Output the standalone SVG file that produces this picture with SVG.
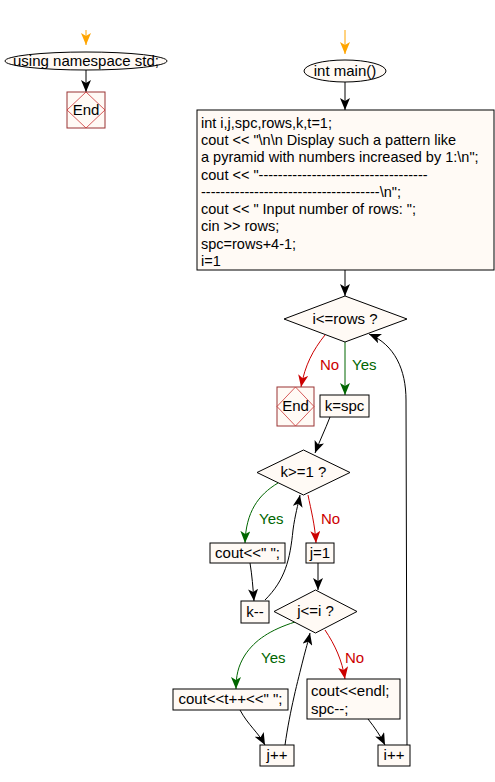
<svg xmlns="http://www.w3.org/2000/svg" width="495" height="782" viewBox="0 0 495 782">
<style>
text{font-family:"Liberation Sans",Arial,sans-serif;font-size:15px;fill:#000}
.bt{font-size:14.5px}
.box{fill:#fffaf5;stroke:#000;stroke-width:1}
.end{fill:#fffaf5;stroke:#993333;stroke-width:1}
.endd{fill:none;stroke:#cc3333;stroke-width:0.8}
.ln{fill:none;stroke:#000;stroke-width:1}
.g{fill:none;stroke:#006600;stroke-width:1}
.r{fill:none;stroke:#cc0000;stroke-width:1}
.o{fill:none;stroke:#ffa500;stroke-width:1}
</style>
<defs>
<marker id="a" viewBox="0 0 12 10" refX="12" refY="5" markerWidth="12" markerHeight="10" markerUnits="userSpaceOnUse" orient="auto">
<path d="M0,0 L12,5 L0,10 L3,5 Z" fill="#000"/>
</marker>
<marker id="ag" viewBox="0 0 12 10" refX="12" refY="5" markerWidth="12" markerHeight="10" markerUnits="userSpaceOnUse" orient="auto">
<path d="M0,0 L12,5 L0,10 L3,5 Z" fill="#006600"/>
</marker>
<marker id="ar" viewBox="0 0 12 10" refX="12" refY="5" markerWidth="12" markerHeight="10" markerUnits="userSpaceOnUse" orient="auto">
<path d="M0,0 L12,5 L0,10 L3,5 Z" fill="#cc0000"/>
</marker>
<marker id="ao" viewBox="0 0 12 10" refX="12" refY="5" markerWidth="12" markerHeight="10" markerUnits="userSpaceOnUse" orient="auto">
<path d="M0,0 L12,5 L0,10 L3,5 Z" fill="#ffa500"/>
</marker>
</defs>

<g id="connectors">
<path class="o" d="M86,30 L86,45" marker-end="url(#ao)"/>
<path class="ln" d="M86,70 L86,92" marker-end="url(#a)"/>
<path class="o" d="M345,30 L345,54" marker-end="url(#ao)"/>
<path class="ln" d="M345,82 L345,110" marker-end="url(#a)"/>
<path class="ln" d="M345,270 L345,296" marker-end="url(#a)"/>
<path class="r" d="M325,335 C313,350 305,365 301,387" marker-end="url(#ar)"/>
<path class="g" d="M345,342 L345,395" marker-end="url(#ag)"/>
<path class="ln" d="M407,745 L406,400 C406,370 395,345 369,334" marker-end="url(#a)"/>
<path class="ln" d="M330,417 C325,430 320,440 315,453" marker-end="url(#a)"/>
<path class="g" d="M278,483 C258,495 246,512 245,543" marker-end="url(#ag)"/>
<path class="r" d="M308,495 C311,510 315,525 316,543" marker-end="url(#ar)"/>
<path class="ln" d="M250,563 C252,575 253,588 254,601" marker-end="url(#a)"/>
<path class="ln" d="M265,600 C285,580 290,560 293,530 C295,515 298,505 300,495" marker-end="url(#a)"/>
<path class="ln" d="M318,563 L318,590" marker-end="url(#a)"/>
<path class="g" d="M295,622 C270,630 255,640 245,655 C238,666 236,676 236,689" marker-end="url(#ag)"/>
<path class="r" d="M325,630 C335,645 342,660 345,679" marker-end="url(#ar)"/>
<path class="ln" d="M240,710 C248,725 258,732 265,745" marker-end="url(#a)"/>
<path class="ln" d="M285,745 C290,710 298,680 303,660 C306,648 308,642 310,633" marker-end="url(#a)"/>
<path class="ln" d="M368,719 C375,728 380,735 385,745" marker-end="url(#a)"/>
<text x="320" y="370" style="fill:#cc0000">No</text>
<text x="352" y="370" style="fill:#006600">Yes</text>
<text x="259" y="524" style="fill:#006600">Yes</text>
<text x="321" y="524" style="fill:#cc0000">No</text>
<text x="261" y="663" style="fill:#006600">Yes</text>
<text x="345" y="663" style="fill:#cc0000">No</text>
</g>

<g id="ns">
<ellipse class="box" cx="86" cy="61" rx="81" ry="9"/>
<text x="86" y="66" text-anchor="middle">using namespace std;</text>
</g>
<g id="end1">
<rect class="end" x="67" y="92" width="38" height="36"/>
<path class="endd" d="M86,92 L105,110 L86,128 L67,110 Z"/>
<text x="86" y="115" text-anchor="middle">End</text>
</g>
<g id="main">
<ellipse class="box" cx="345" cy="71" rx="41" ry="11"/>
<text x="345" y="76" text-anchor="middle">int main()</text>
</g>
<g id="init">
<rect class="box" x="197" y="110" width="297" height="160"/>
<text class="bt" x="201" y="128">int i,j,spc,rows,k,t=1;</text>
<text class="bt" x="201" y="145">cout &lt;&lt; "\n\n Display such a pattern like</text>
<text class="bt" x="201" y="162">a pyramid with numbers increased by 1:\n";</text>
<text class="bt" x="201" y="180">cout &lt;&lt; "-----------------------------------</text>
<text class="bt" x="201" y="197">-------------------------------------\n";</text>
<text class="bt" x="201" y="214">cout &lt;&lt; " Input number of rows: ";</text>
<text class="bt" x="201" y="231">cin &gt;&gt; rows;</text>
<text class="bt" x="201" y="249">spc=rows+4-1;</text>
<text class="bt" x="201" y="266">i=1</text>
</g>
<g id="d1">
<path class="box" d="M345,296 L407,319 L345,342 L284,319 Z"/>
<text x="345" y="324" text-anchor="middle">i&lt;=rows ?</text>
</g>
<g id="end2">
<rect class="end" x="277" y="387" width="37" height="39"/>
<path class="endd" d="M295.5,387 L314,406.5 L295.5,426 L277,406.5 Z"/>
<text x="295.5" y="411" text-anchor="middle">End</text>
</g>
<g id="kspc">
<rect class="box" x="320" y="395" width="49" height="22"/>
<text x="344.5" y="411" text-anchor="middle">k=spc</text>
</g>
<g id="d2">
<path class="box" d="M303.5,450 L350,472.5 L303.5,495 L257,472.5 Z"/>
<text x="303.5" y="477" text-anchor="middle">k&gt;=1 ?</text>
</g>
<g id="cout1">
<rect class="box" x="210" y="543" width="75" height="20"/>
<text x="247.5" y="558" text-anchor="middle">cout&lt;&lt;" ";</text>
</g>
<g id="j1">
<rect class="box" x="306" y="543" width="28" height="20"/>
<text x="320" y="558" text-anchor="middle">j=1</text>
</g>
<g id="kdec">
<rect class="box" x="241" y="601" width="28" height="22"/>
<text x="255" y="617" text-anchor="middle">k--</text>
</g>
<g id="d3">
<path class="box" d="M315.5,590 L357,611.5 L315.5,633 L274,611.5 Z"/>
<text x="315.5" y="616" text-anchor="middle">j&lt;=i ?</text>
</g>
<g id="cout2">
<rect class="box" x="173" y="689" width="115" height="21"/>
<text x="230.5" y="704" text-anchor="middle">cout&lt;&lt;t++&lt;&lt;" ";</text>
</g>
<g id="endl">
<rect class="box" x="307" y="679" width="93" height="40"/>
<text x="311" y="696">cout&lt;&lt;endl;</text>
<text x="311" y="714">spc--;</text>
</g>
<g id="jinc">
<rect class="box" x="260" y="745" width="34" height="21"/>
<text x="277" y="760" text-anchor="middle">j++</text>
</g>
<g id="iinc">
<rect class="box" x="378" y="745" width="32" height="21"/>
<text x="394" y="760" text-anchor="middle">i++</text>
</g>
</svg>
